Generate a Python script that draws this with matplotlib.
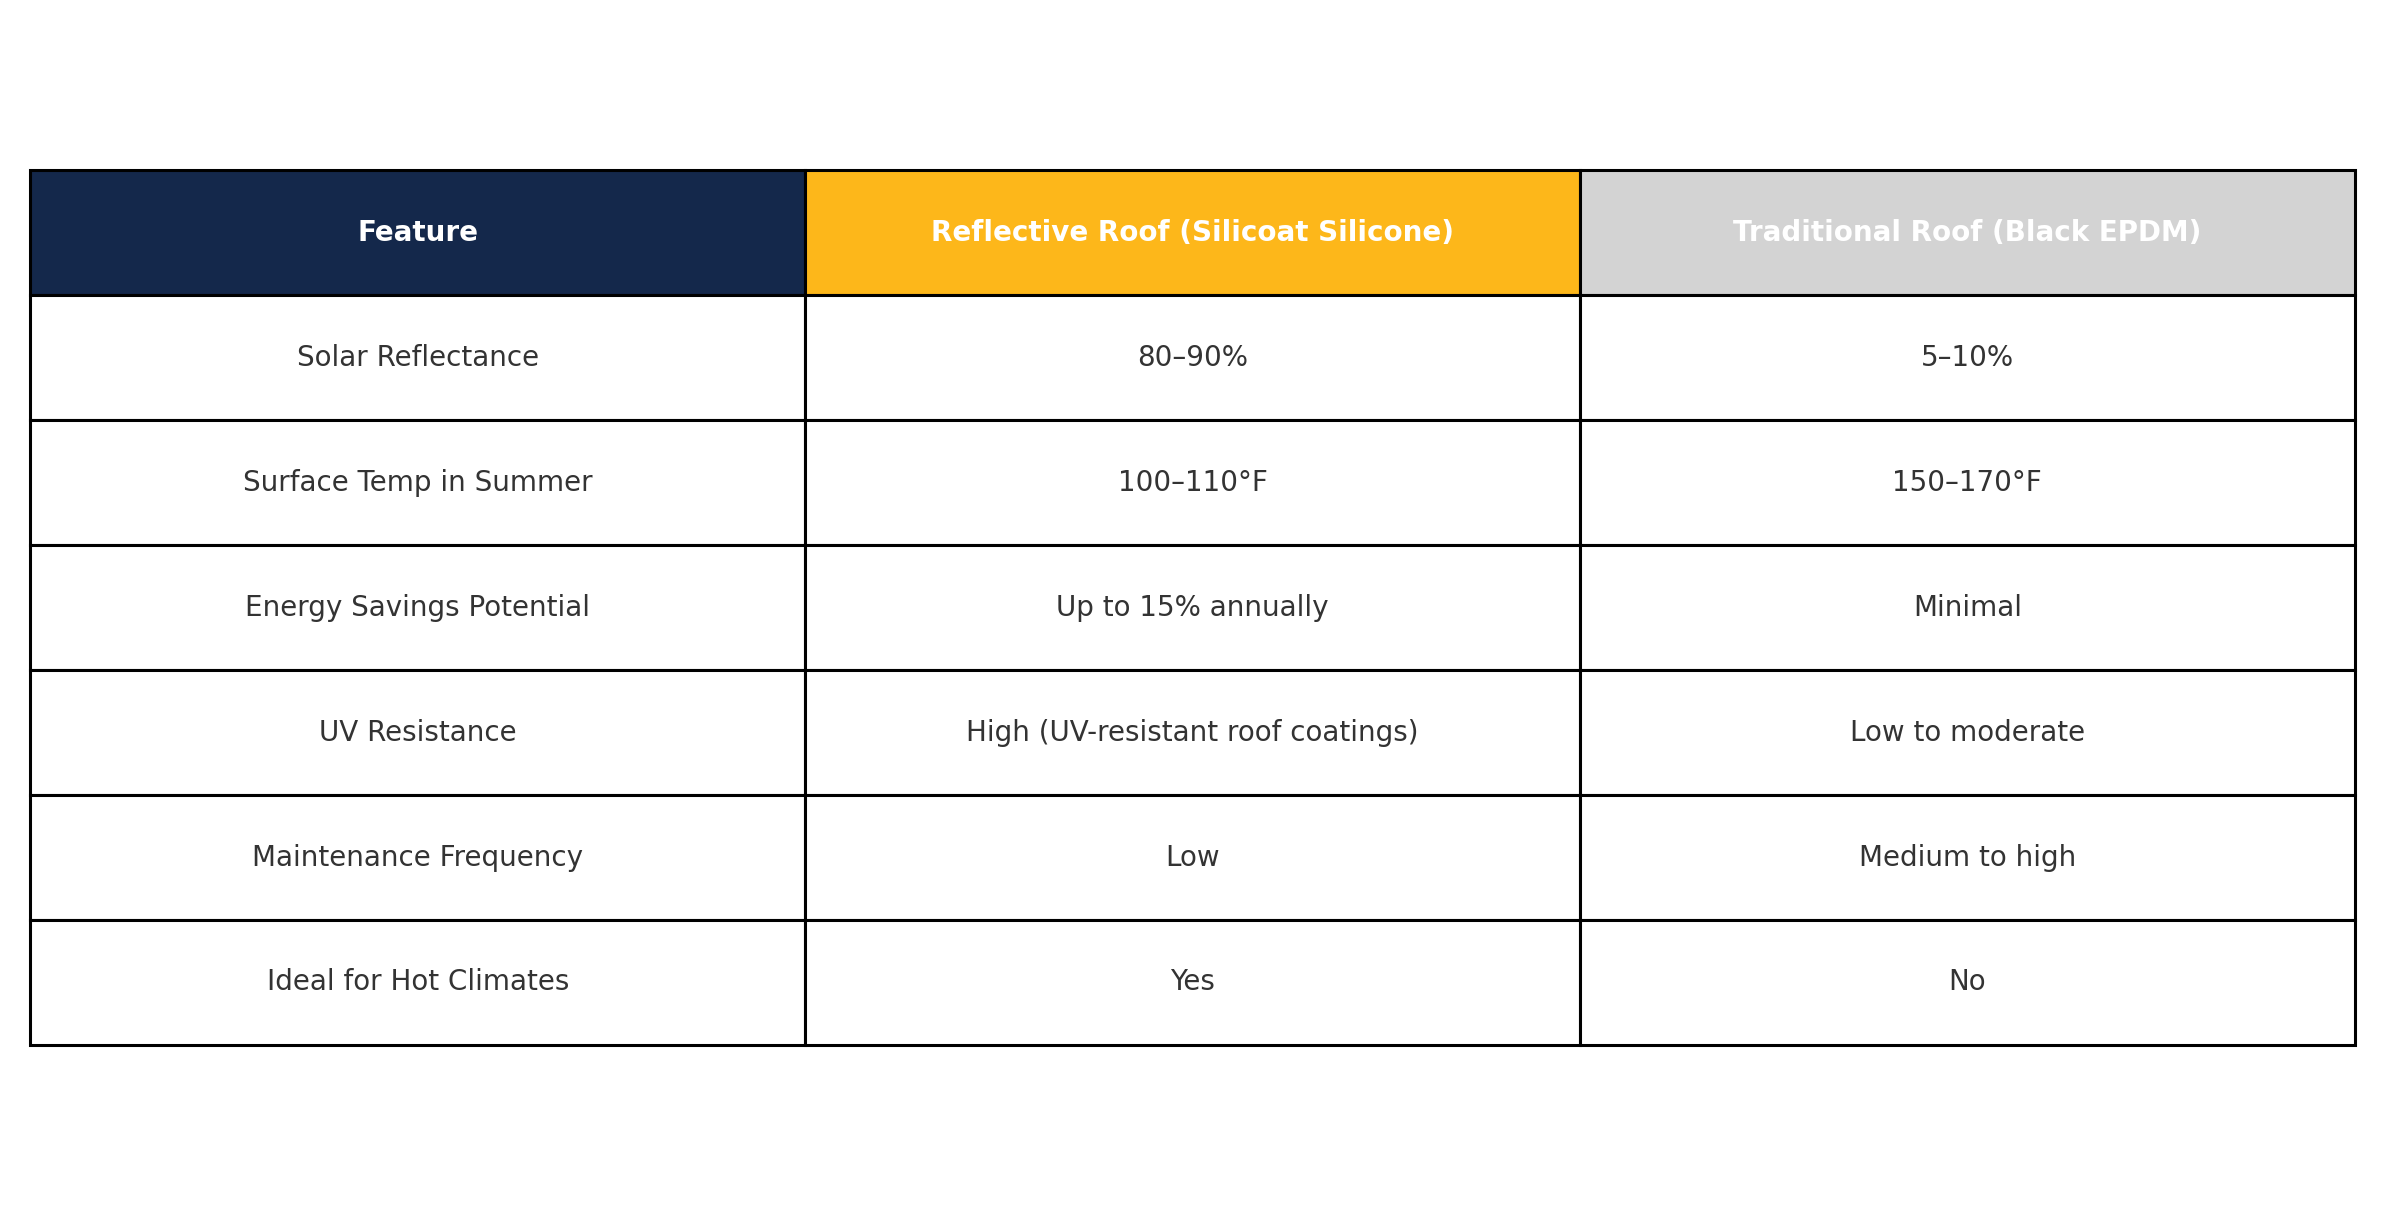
import matplotlib
matplotlib.use("Agg")
import matplotlib.pyplot as plt

columns = ["Feature", "Reflective Roof (Silicoat Silicone)", "Traditional Roof (Black EPDM)"]
features = ["Solar Reflectance", "Surface Temp in Summer", "Energy Savings Potential",
            "UV Resistance", "Maintenance Frequency", "Ideal for Hot Climates"]
reflective = ["80–90%", "100–110°F", "Up to 15% annually",
              "High (UV-resistant roof coatings)", "Low", "Yes"]
traditional = ["5–10%", "150–170°F", "Minimal", "Low to moderate", "Medium to high", "No"]
header_colors = ["#14284B", "#FDB71A", "#D3D3D3"]

rows = [list(r) for r in zip(features, reflective, traditional)]

fig = plt.figure(figsize=(23.85, 12.15), dpi=100)
ax = fig.add_axes([0, 0, 1, 1])
ax.axis("off")

tbl = ax.table(cellText=rows, colLabels=columns, cellLoc="center",
               bbox=[0.01276, 0.140, 0.9745, 0.7197])
tbl.auto_set_font_size(False)
for (r, c), cell in tbl.get_celld().items():
    cell.set_linewidth(2.2)
    cell.set_edgecolor("black")
    if r == 0:
        cell.set_facecolor(header_colors[c])
        cell.get_text().set_color("white")
        cell.get_text().set_fontweight("bold")
        cell.get_text().set_fontsize(20)
    else:
        cell.set_facecolor("white")
        cell.get_text().set_color("#333333")
        cell.get_text().set_fontsize(20)

fig.savefig("out.png", dpi=100, facecolor="white")
